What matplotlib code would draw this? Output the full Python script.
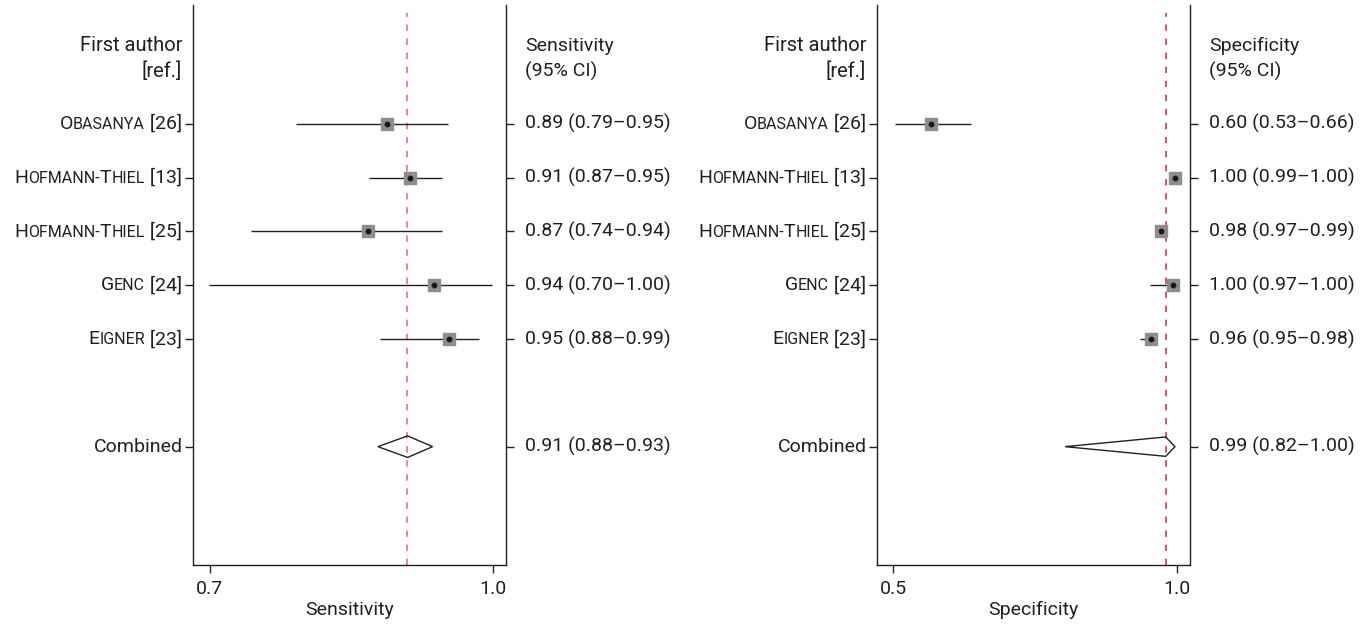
import matplotlib.pyplot as plt
from matplotlib.offsetbox import TextArea, HPacker, AnnotationBbox
from matplotlib.patches import Polygon

plt.rcParams["font.family"] = ["Roboto", "DejaVu Sans"]

# study labels in small caps: (text, is_small)
authors = [
    [("O", False), ("BASANYA", True), (" [26]", False)],
    [("H", False), ("OFMANN-", True), ("T", False), ("HIEL", True), (" [13]", False)],
    [("H", False), ("OFMANN-", True), ("T", False), ("HIEL", True), (" [25]", False)],
    [("G", False), ("ENC", True), (" [24]", False)],
    [("E", False), ("IGNER", True), (" [23]", False)],
]
rows = [0, 1, 2, 3, 4]
combined_row = 6

# sensitivity (positions)
sens_est = [0.888, 0.912, 0.868, 0.938, 0.953]
sens_lo = [0.791, 0.869, 0.744, 0.699, 0.880]
sens_hi = [0.952, 0.946, 0.946, 0.999, 0.985]
sens_pooled = [0.878, 0.9095, 0.936]  # lo, est, hi
sens_ref = 0.909
sens_text = ["0.89 (0.79–0.95)", "0.91 (0.87–0.95)", "0.87 (0.74–0.94)",
             "0.94 (0.70–1.00)", "0.95 (0.88–0.99)"]
sens_pooled_text = "0.91 (0.88–0.93)"

# specificity
spec_est = [0.566, 0.996, 0.971, 0.993, 0.954]
spec_lo = [0.504, 0.990, 0.966, 0.953, 0.935]
spec_hi = [0.637, 1.000, 0.976, 1.000, 0.962]
spec_pooled = [0.803, 0.980, 0.9965]
spec_ref = 0.980
spec_text = ["0.60 (0.53–0.66)", "1.00 (0.99–1.00)", "0.98 (0.97–0.99)",
             "1.00 (0.97–1.00)", "0.96 (0.95–0.98)"]
spec_pooled_text = "0.99 (0.82–1.00)"

TXT = "#231f20"
FS = 14
SMALL = 11.5

fig = plt.figure(figsize=(13.69, 6.24), dpi=100)
W, H = 1369, 624


def panel(left, est, lo, hi, pooled, ref, ref_color, texts, pooled_text,
          xlim, xticks, xlabel, head, diamond_h):
    ax = fig.add_axes([left / W, 59 / H, 313 / W, 560 / H])
    ax.set_xlim(*xlim)
    ax.set_ylim(8.2, -2.21)
    for s in ["left", "right", "bottom"]:
        ax.spines[s].set_linewidth(1.0)
        ax.spines[s].set_color(TXT)
    ax.spines["top"].set_visible(False)

    # reference line
    ax.plot([ref, ref], [8.2, -2.06], color=ref_color, lw=1.1,
            dashes=(4.2, 5.0), zorder=1)

    # studies
    ax.hlines(rows, lo, hi, color=TXT, lw=1.0, zorder=2)
    ax.plot(est, rows, "s", ms=8.2, color="#8e8e8e", mec="#8e8e8e", zorder=3)
    ax.plot(est, rows, "o", ms=3.2, color="#1a1a1a", zorder=4)

    # pooled diamond
    plo, pest, phi = pooled
    c = combined_row
    ax.add_patch(Polygon([(plo, c), (pest, c - diamond_h), (phi, c),
                          (pest, c + diamond_h)], closed=True, fill=False,
                         edgecolor=TXT, lw=1.0, zorder=3))

    ax.set_yticks(rows + [combined_row])
    ax.set_yticklabels([])
    ax.tick_params(axis="y", left=True, right=True, length=6, width=1.0,
                   color=TXT)
    ax.set_xticks(xticks)
    ax.set_xticklabels([f"{t:.1f}" for t in xticks])
    ax.tick_params(axis="x", length=6, width=1.0, color=TXT, pad=5,
                   labelsize=FS, labelcolor=TXT)
    ax.set_xlabel(xlabel, fontsize=FS, color=TXT, labelpad=2)

    ytr = ax.get_yaxis_transform()
    # left labels (small caps)
    for r, pieces in zip(rows, authors):
        kids = [TextArea(t, textprops=dict(fontsize=SMALL if sm else FS,
                                           color=TXT))
                for t, sm in pieces]
        box = HPacker(children=kids, align="baseline", pad=0, sep=0)
        ab = AnnotationBbox(box, (0, r), xycoords=ytr, xybox=(-8, 0),
                            boxcoords="offset points", box_alignment=(1, 0.5),
                            frameon=False, pad=0)
        ax.add_artist(ab)
    ax.text(-0.033, combined_row, "Combined", transform=ytr, ha="right",
            va="center", fontsize=FS, color=TXT)
    ax.text(-0.035, -1.36, "First author", transform=ytr, ha="right",
            va="baseline", fontsize=FS + 0.5, color=TXT)
    ax.text(-0.035, -0.87, "[ref.]", transform=ytr, ha="right",
            va="baseline", fontsize=FS + 0.5, color=TXT)

    # right labels
    xr = 1 + 19 / 313
    ax.text(xr, -1.36, head, transform=ytr, ha="left", va="baseline",
            fontsize=FS, color=TXT)
    ax.text(xr, -0.87, "(95% CI)", transform=ytr, ha="left", va="baseline",
            fontsize=FS, color=TXT)
    for r, t in zip(rows, texts):
        ax.text(xr, r, t, transform=ytr, ha="left", va="center",
                fontsize=FS, color=TXT)
    ax.text(xr, combined_row, pooled_text, transform=ytr, ha="left",
            va="center", fontsize=FS, color=TXT)
    return ax


panel(193, sens_est, sens_lo, sens_hi, sens_pooled, sens_ref, "#e06a6a",
      sens_text, sens_pooled_text, (0.682, 1.0138), [0.7, 1.0],
      "Sensitivity", "Sensitivity", 0.2)
panel(877, spec_est, spec_lo, spec_hi, spec_pooled, spec_ref, "#e0202a",
      spec_text, spec_pooled_text, (0.4718, 1.0229), [0.5, 1.0],
      "Specificity", "Specificity", 0.18)

fig.savefig("out.png", dpi=100)
